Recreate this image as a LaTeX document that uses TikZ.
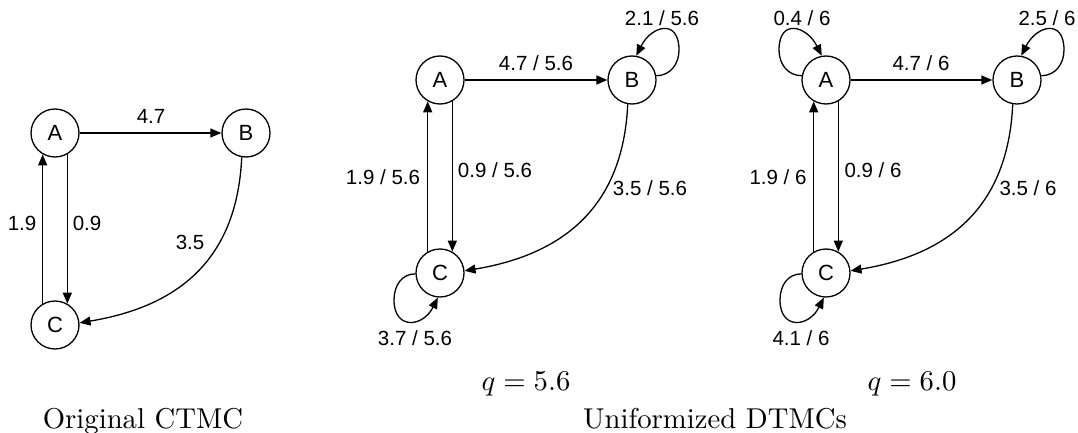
\documentclass[tikz,border=0pt]{standalone}
\usepackage{fontspec}
\newfontfamily\labfont{Liberation Sans}
\usetikzlibrary{arrows.meta}
\begin{document}
\begin{tikzpicture}[x=1pt,y=-1pt,
  st/.style={draw, circle, line width=1.3pt, minimum size=48pt, inner sep=0pt, font=\labfont\fontsize{22}{24}\selectfont},
  ed/.style={line width=1.3pt, -{Triangle[length=11pt,width=9pt]}},
  lb/.style={font=\labfont\fontsize{20.5}{22}\selectfont, inner sep=0pt},
  captext/.style={scale=2.87, inner sep=0pt, anchor=base}]
\useasboundingbox (0,0) rectangle (1078,433);
% ---------- original CTMC ----------
\node[st] (A1) at (55,133) {A};
\node[st] (B1) at (246,133) {B};
\node[st] (C1) at (55,325) {C};
\draw[ed] (A1) -- (B1);
\draw[ed] (A1.-60) -- (C1.60);
\draw[ed] (C1.120) -- (A1.-120);
\draw[ed] (B1.260) .. controls +(-5,110) and +(90,-15) .. (C1.5);
\node[lb] (l1ab) at (151,116) {4.7};
\node[lb] (l1ca) at (22,223) {1.9};
\node[lb] (l1ac) at (87,223) {0.9};
\node[lb] (l1bc) at (190,242) {3.5};
% ---------- q = 5.6 ----------
\node[st] (A2) at (440,80) {A};
\node[st] (B2) at (632,80) {B};
\node[st] (C2) at (440,273) {C};
\draw[ed] (A2) -- (B2);
\draw[ed] (A2.-60) -- (C2.60);
\draw[ed] (C2.120) -- (A2.-120);
\draw[ed] (B2.260) .. controls +(-5,110) and +(90,-15) .. (C2.5);
\draw[ed] (B2.10) .. controls +(14,0) and +(0,14) .. ([shift={(47,-30)}]B2.center)
          .. controls +(0,-32) and +(15,-30) .. (B2.80);
\draw[ed] (C2.182) .. controls +(-14,0) and +(0,-14) .. ([shift={(-46,27)}]C2.center)
          .. controls +(0,30) and +(-15,30) .. (C2.265);
\node[lb] (l2ab) at (536,63) {4.7 / 5.6};
\node[lb] (l2ca) at (383,177) {1.9 / 5.6};
\node[lb] (l2ac) at (495,170) {0.9 / 5.6};
\node[lb] (l2bc) at (650,188) {3.5 / 5.6};
\node[lb] (l2bb) at (662,18) {2.1 / 5.6};
\node[lb] (l2cc) at (415,338) {3.7 / 5.6};
% ---------- q = 6.0 ----------
\node[st] (A3) at (826,80) {A};
\node[st] (B3) at (1017,80) {B};
\node[st] (C3) at (826,273) {C};
\draw[ed] (A3) -- (B3);
\draw[ed] (A3.-60) -- (C3.60);
\draw[ed] (C3.120) -- (A3.-120);
\draw[ed] (B3.260) .. controls +(-5,110) and +(90,-15) .. (C3.5);
\draw[ed] (B3.10) .. controls +(14,0) and +(0,14) .. ([shift={(47,-30)}]B3.center)
          .. controls +(0,-32) and +(15,-30) .. (B3.80);
\draw[ed] (A3.170) .. controls +(-14,0) and +(0,14) .. ([shift={(-47,-30)}]A3.center)
          .. controls +(0,-32) and +(-15,-30) .. (A3.100);
\draw[ed] (C3.182) .. controls +(-14,0) and +(0,-14) .. ([shift={(-46,27)}]C3.center)
          .. controls +(0,30) and +(-15,30) .. (C3.265);
\node[lb] (l3aa) at (802,18) {0.4 / 6};
\node[lb] (l3ab) at (921,63) {4.7 / 6};
\node[lb] (l3bb) at (1047,18) {2.5 / 6};
\node[lb] (l3ca) at (778,177) {1.9 / 6};
\node[lb] (l3ac) at (873,170) {0.9 / 6};
\node[lb] (l3bc) at (1028,188) {3.5 / 6};
\node[lb] (l3cc) at (801,338) {4.1 / 6};
% ---------- captions ----------
\node[captext] (t1) at (143,428) {Original CTMC};
\node[captext] (t2) at (526,390) {$q = 5.6$};
\node[captext] (t3) at (912,390) {$q = 6.0$};
\node[captext] (t4) at (715,428) {Uniformized DTMCs};
\end{tikzpicture}
\end{document}
